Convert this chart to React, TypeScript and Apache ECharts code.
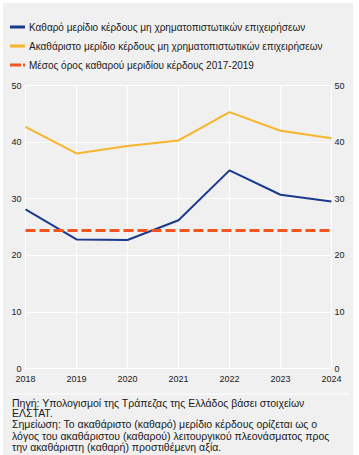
import React, { useEffect, useRef } from "react";
import * as echarts from "echarts";

const years = ["2018", "2019", "2020", "2021", "2022", "2023", "2024"];
const netShare = [28.1, 22.8, 22.7, 26.2, 35.0, 30.7, 29.5];
const grossShare = [42.7, 38.0, 39.3, 40.3, 45.3, 42.0, 40.7];
const avgNet2017_2019 = 24.4;

const nameNet = "Καθαρό μερίδιο κέρδους μη χρηματοπιστωτικών επιχειρήσεων";
const nameGross = "Ακαθάριστο μερίδιο κέρδους μη χρηματοπιστωτικών επιχειρήσεων";
const nameAvg = "Μέσος όρος καθαρού μεριδίου κέρδους 2017-2019";

const footLines = [
  "Πηγή: Υπολογισμοί της Τράπεζας της Ελλάδος βάσει στοιχείων",
  "ΕΛΣΤΑΤ.",
  "Σημείωση: Το ακαθάριστο (καθαρό) μερίδιο κέρδους ορίζεται ως ο",
  "λόγος του ακαθάριστου (καθαρού) λειτουργικού πλεονάσματος προς",
  "την ακαθάριστη (καθαρή) προστιθέμενη αξία.",
];
const footY = [397, 407.5, 418.5, 430, 441];

const FONT = "'Liberation Sans', Arial, sans-serif";
const BLUE = "#1c3a8c";
const YELLOW = "#f7b52c";
const ORANGE = "#f0561d";

export default function App() {
  const ref = useRef<HTMLDivElement>(null);
  useEffect(() => {
    if (!ref.current) return;
    const chart = echarts.init(ref.current, null, { renderer: "svg" });
    const legendBase = {
      orient: "vertical",
      left: 10,
      itemWidth: 15,
      itemHeight: 3,
      padding: 0,
      textStyle: { fontFamily: FONT, fontSize: 10, color: "#1a1a1a", padding: [0, 0, 0, -1] },
    };
    chart.setOption({
      animation: false,
      backgroundColor: "#ffffff",
      textStyle: { fontFamily: FONT },
      graphic: [
        {
          type: "rect",
          z: -10,
          silent: true,
          shape: { x: 3, y: 3, width: 350, height: 455 },
          style: { fill: "#f0f0f0" },
        },
        {
          type: "line",
          silent: true,
          shape: { x1: 8, y1: 394, x2: 350, y2: 394 },
          style: { stroke: "#ffffff", lineWidth: 1 },
        },
        ...footLines.map((t, i) => ({
          type: "text",
          left: 12,
          top: footY[i],
          silent: true,
          style: {
            text: t,
            fontFamily: FONT,
            fontSize: 10.5,
            lineHeight: 10,
            fill: "#1a1a1a",
          },
        })),
      ],
      legend: [
        { ...legendBase, top: 22, data: [{ name: nameNet, icon: "rect" }] },
        { ...legendBase, top: 41, data: [{ name: nameGross, icon: "rect" }] },
        {
          ...legendBase,
          top: 60,
          data: [{ name: nameAvg, icon: "path://M0,0h11v3h-11z M13,0h2v3h-2z" }],
        },
      ],
      grid: { left: 25.5, right: 27.5, top: 85.5, bottom: 86.5, containLabel: false },
      xAxis: {
        type: "category",
        data: years,
        boundaryGap: false,
        axisLine: { show: false },
        axisTick: { show: false },
        axisLabel: { fontSize: 9, color: "#222", margin: 6, fontFamily: FONT },
        splitLine: { show: true, lineStyle: { color: "#ffffff", width: 1 } },
      },
      yAxis: [
        {
          type: "value",
          min: 0,
          max: 50,
          interval: 10,
          position: "left",
          axisLine: { show: false },
          axisTick: { show: false },
          axisLabel: { fontSize: 9, color: "#222", margin: 4, fontFamily: FONT },
          splitLine: { show: true, lineStyle: { color: "#ffffff", width: 1 } },
        },
        {
          type: "value",
          min: 0,
          max: 50,
          interval: 10,
          position: "right",
          axisLine: { show: false },
          axisTick: { show: false },
          axisLabel: { fontSize: 9, color: "#222", margin: 3, fontFamily: FONT },
          splitLine: { show: false },
        },
      ],
      series: [
        {
          name: nameNet,
          type: "line",
          data: netShare,
          symbol: "none",
          lineStyle: { color: BLUE, width: 2 },
          itemStyle: { color: BLUE },
          z: 3,
        },
        {
          name: nameGross,
          type: "line",
          data: grossShare,
          symbol: "none",
          lineStyle: { color: YELLOW, width: 2 },
          itemStyle: { color: YELLOW },
          z: 3,
        },
        {
          name: nameAvg,
          type: "line",
          data: years.map(() => avgNet2017_2019),
          symbol: "none",
          lineStyle: { color: ORANGE, width: 3, type: [10, 4] },
          itemStyle: { color: ORANGE },
          z: 4,
        },
      ],
    });
    return () => chart.dispose();
  }, []);
  return (
    <div
      ref={ref}
      style={{ position: "fixed", left: 0, top: 0, width: 359, height: 455 }}
    />
  );
}
